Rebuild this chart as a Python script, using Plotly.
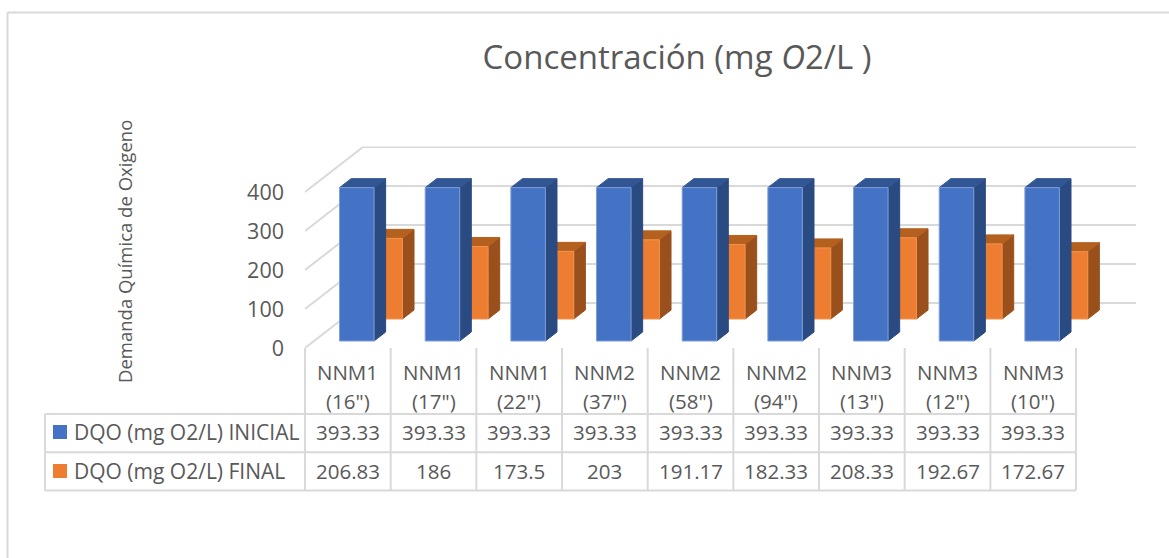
import plotly.graph_objects as go

categories = ['NNM1 (16")', 'NNM1 (17")', 'NNM1 (22")', 'NNM2 (37")', 'NNM2 (58")', 'NNM2 (94")', 'NNM3 (13")', 'NNM3 (12")', 'NNM3 (10")']
series_names = ["DQO (mg O2/L) INICIAL", "DQO (mg O2/L) FINAL"]
inicial = [393.33, 393.33, 393.33, 393.33, 393.33, 393.33, 393.33, 393.33, 393.33]
final = [206.83, 186, 173.5, 203, 191.17, 182.33, 208.33, 192.67, 172.67]
final_labels = ["206.83", "186", "173.5", "203", "191.17", "182.33", "208.33", "192.67", "172.67"]
inicial_labels = ["393.33"] * 9
y_ticks = [0, 100, 200, 300, 400]

W, H = 1169, 558
PX_X0, PX_Y0 = 305.0, 348.0
CAT_PX = 85.67
VAL_PX = 0.39
DEPTH_X = 58 / CAT_PX
DEPTH_Y = 45 / VAL_PX
GRID = "#d9d9d9"
TXT = "#595959"
FONT = "Open Sans"


def proj(x, v, t):
    return x + DEPTH_X * t, v + DEPTH_Y * t


def poly(pts):
    xs, ys = zip(*[proj(*p) for p in pts])
    return list(xs) + [xs[0]], list(ys) + [ys[0]]


def face(fig, pts, color, edge=None):
    xs, ys = poly(pts)
    fig.add_trace(go.Scatter(x=xs, y=ys, mode="lines", fill="toself", fillcolor=color,
                             line=dict(color=edge or color, width=1), hoverinfo="skip",
                             showlegend=False))


def box(fig, i, v, t0, cols):
    dt = 0.2
    x0 = i + 0.298
    x1 = x0 + 0.403
    front, side, top, edge = cols
    face(fig, [(x1, 0, t0), (x1, 0, t0 + dt), (x1, v, t0 + dt), (x1, v, t0)], side)
    face(fig, [(x0, v, t0), (x1, v, t0), (x1, v, t0 + dt), (x0, v, t0 + dt)], top)
    face(fig, [(x0, 0, t0), (x1, 0, t0), (x1, v, t0), (x0, v, t0)], front, edge)


fig = go.Figure()

xmax = (1136 - PX_X0) / CAT_PX
for v in y_ticks:
    a = proj(0, v, 0)
    b = proj(0, v, 1)
    fig.add_trace(go.Scatter(x=[a[0], b[0], xmax], y=[a[1], b[1], b[1]], mode="lines",
                             line=dict(color=GRID, width=2), hoverinfo="skip", showlegend=False))

for i, v in enumerate(final):
    box(fig, i, v, 0.644, ("#ED7D31", "#99501C", "#B4601F", "#f2954f"))
for i, v in enumerate(inicial):
    box(fig, i, v, 0.155, ("#4472C4", "#2A4A82", "#325594", "#7f9fd8"))

shapes = []


def pline(x0, y0, x1, y1, w=2):
    shapes.append(dict(type="line", xref="paper", yref="paper", x0=x0 / W, x1=x1 / W,
                       y0=1 - y0 / H, y1=1 - y1 / H, line=dict(color=GRID, width=w)))


pline(7.5, 12.5, W, 12.5)
pline(7.5, 12.5, 7.5, H)
for py in (414, 452.3, 490.5):
    pline(45, py, PX_X0 + 9 * CAT_PX, py)
pline(45, 414, 45, 490.5)
for k in range(10):
    px = PX_X0 + k * CAT_PX
    pline(px, 348, px, 490.5)

annotations = []


def label(px, py, text, size=20, anchor="center", **kw):
    annotations.append(dict(xref="paper", yref="paper", x=px / W, y=1 - py / H, text=text,
                            showarrow=False, xanchor=anchor, yanchor="middle",
                            font=dict(family=FONT, size=size, color=TXT), **kw))


for row, (py, vals, name, col) in enumerate(zip((432, 471), (inicial_labels, final_labels), series_names,
                                                ("#4472C4", "#ED7D31"))):
    label(71.5, py, name, size=21, anchor="left")
    shapes.append(dict(type="rect", xref="paper", yref="paper", x0=53 / W, x1=67 / W,
                       y0=1 - (py + 7) / H, y1=1 - (py - 7) / H, fillcolor=col, line_width=0))
    for k, t in enumerate(vals):
        label(PX_X0 + (k + 0.5) * CAT_PX, py, t, size=20.5)

for k, c in enumerate(categories):
    a, b = c.split(" ")
    label(PX_X0 + (k + 0.5) * CAT_PX, 372, a, size=20.5)
    label(PX_X0 + (k + 0.5) * CAT_PX, 401, b, size=20.5)

label(124, 252, "Demanda Química de Oxigeno", size=18.5, textangle=-90)

fig.update_layout(
    width=W, height=H, autosize=False, margin=dict(l=0, r=0, t=0, b=0),
    paper_bgcolor="white", plot_bgcolor="rgba(0,0,0,0)", showlegend=False,
    title=dict(text="Concentración (mg <i>O</i>2/L )", x=677 / W, y=1 - 57 / H, xanchor="center",
               yanchor="middle", automargin=False, font=dict(family=FONT, size=33, color=TXT)),
    xaxis=dict(domain=[PX_X0 / W, 1136 / W], range=[0, xmax], showgrid=False, zeroline=False, automargin=False,
               showline=False, showticklabels=False, ticks="", fixedrange=True),
    yaxis=dict(domain=[1 - PX_Y0 / H, 1 - 146.5 / H], range=[0, (PX_Y0 - 146.5) / VAL_PX], showgrid=False,
               zeroline=False, showline=False, tickvals=y_ticks, ticks="", ticklabelstandoff=20, automargin=False,
               tickfont=dict(family=FONT, size=21.5, color=TXT), fixedrange=True),
    shapes=shapes, annotations=annotations,
)

fig.write_html("out.html", post_script="document.body.style.margin='0';document.body.style.overflow='hidden';",
               config=dict(displayModeBar=False))
